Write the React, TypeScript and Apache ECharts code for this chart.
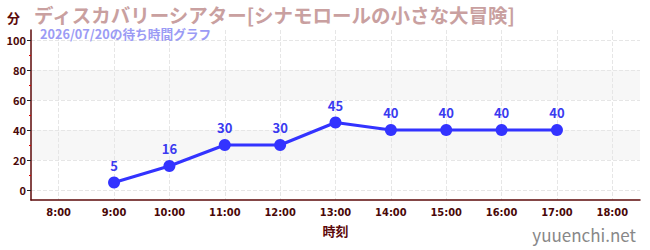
import React, { useEffect, useRef } from "react";
import * as echarts from "echarts";

const categories = ["8:00", "9:00", "10:00", "11:00", "12:00", "13:00", "14:00", "15:00", "16:00", "17:00", "18:00"];
const waitTimes = [null, 5, 16, 30, 30, 45, 40, 40, 40, 40, null];
const yMin = 0;
const yMax = 100;
const yInterval = 20;
const titleText = "ディスカバリーシアター[シナモロールの小さな大冒険]";
const subtitleText = "2026/07/20の待ち時間グラフ";
const yAxisName = "分";
const xAxisName = "時刻";
const watermark = "yuuenchi.net";

const font = "'Noto Sans CJK JP', 'Noto Sans', sans-serif";
const axisColor = "#5c0a0a";
const labelColor = "#4a0808";

export default function App() {
  const ref = useRef<HTMLDivElement>(null);
  useEffect(() => {
    if (!ref.current) return;
    const chart = echarts.init(ref.current, null, { renderer: "svg" });
    chart.setOption({
      animation: false,
      textStyle: { fontFamily: font },
      title: [
        {
          text: titleText,
          left: 34,
          top: 4,
          padding: 0,
          textStyle: { fontSize: 19.5, lineHeight: 20, fontWeight: "bold", color: "#c9a0a0", fontFamily: font },
        },
        {
          text: subtitleText,
          left: 40,
          top: 27,
          padding: 0,
          textStyle: { fontSize: 12.7, lineHeight: 12, fontWeight: "bold", color: "#9b9bf5", fontFamily: font },
        },
      ],
      graphic: [
        {
          type: "text",
          right: 14,
          bottom: 7,
          style: { text: watermark, fontSize: 17, fill: "#888", fontFamily: font },
        },
      ],
      grid: [
        { left: 31, right: 10, top: 40, bottom: 60 },
        { left: 31, right: 10, top: 30, bottom: 50 },
      ],
      xAxis: [
        {
          type: "category",
          gridIndex: 0,
          data: categories,
          boundaryGap: true,
          show: false,
        },
        {
          type: "category",
          gridIndex: 1,
          data: categories,
          boundaryGap: true,
          name: xAxisName,
          nameLocation: "middle",
          nameGap: 24,
          nameTextStyle: { color: axisColor, fontSize: 13, fontWeight: "bold" },
          axisLine: { lineStyle: { color: axisColor, width: 1.5 } },
          axisTick: { alignWithLabel: true, length: 4, lineStyle: { color: "#555" } },
          axisLabel: {
            color: labelColor,
            fontSize: 11,
            fontFamily: "'Liberation Sans Narrow', 'DejaVu Sans Condensed', sans-serif",
            fontWeight: "bold",
            margin: 7,
          },
          splitLine: { show: true, alignWithLabel: true, lineStyle: { type: "dashed", color: "#e6e6e6" } },
        },
      ],
      yAxis: [
        {
          type: "value",
          gridIndex: 0,
          min: yMin,
          max: yMax,
          interval: yInterval,
          axisLine: { show: false },
          axisTick: { show: true, length: 4, lineStyle: { color: "#222" } },
          minorTick: { show: true, splitNumber: 2, length: 2, lineStyle: { color: "#dd0000" } },
          axisLabel: { color: labelColor, fontSize: 11, fontWeight: "bold", margin: 5 },
          splitLine: { show: true, lineStyle: { type: "dashed", color: "#e6e6e6" } },
          splitArea: { show: true, areaStyle: { color: ["rgba(0,0,0,0)", "#f7f7f7"] } },
        },
        {
          type: "value",
          gridIndex: 1,
          min: 0,
          max: 1,
          name: yAxisName,
          nameLocation: "end",
          nameGap: 6,
          nameTextStyle: { color: axisColor, fontSize: 13, fontWeight: "bold", align: "right", padding: [0, 11, 0, 0] },
          axisLine: { show: true, lineStyle: { color: axisColor, width: 1.5 } },
          axisTick: { show: false },
          axisLabel: { show: false },
          splitLine: { show: false },
        },
      ],
      series: [
        {
          type: "line",
          xAxisIndex: 0,
          yAxisIndex: 0,
          data: waitTimes,
          symbol: "circle",
          symbolSize: 12,
          lineStyle: { color: "#3333ff", width: 3 },
          itemStyle: { color: "#3333ff" },
          label: { show: true, position: "top", color: "#3a3af0", fontSize: 13, fontWeight: "bold", distance: 5 },
        },
      ],
    });
    return () => chart.dispose();
  }, []);
  return <div ref={ref} style={{ position: "absolute", left: 0, top: 0, width: 650, height: 250 }} />;
}
